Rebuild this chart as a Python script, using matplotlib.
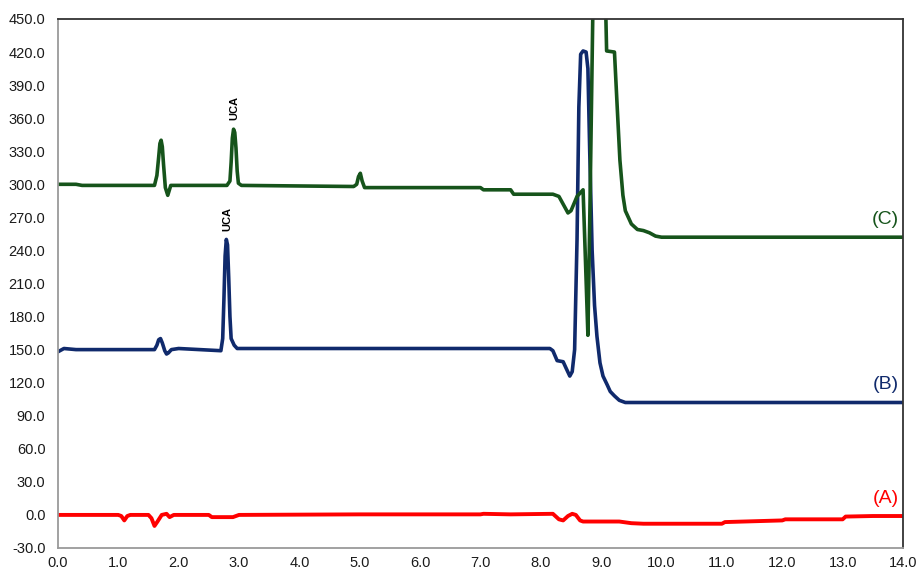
import matplotlib.pyplot as plt

# retention time (min) / signal
a_time = [0.0, 1.0, 1.05, 1.1, 1.15, 1.2, 1.5, 1.55, 1.6, 1.65, 1.72, 1.8, 1.85, 1.92,
          2.5, 2.55, 2.9, 3.0, 5.0, 7.0, 7.05, 7.5, 8.2, 8.3, 8.37, 8.45, 8.52, 8.58,
          8.65, 8.7, 9.0, 9.3, 9.5, 9.7, 11.0, 11.05, 12.0, 12.05, 13.0, 13.05, 13.5, 14.0]
a_signal = [0, 0, -1, -5, -1, 0, 0, -3, -10, -6, 0, 1, -2, 0,
            0, -2, -2, 0, 0.5, 0.5, 1, 0.5, 1, -4, -5, -1, 1, 0,
            -5, -6, -6, -6, -7.5, -8, -8, -6.5, -5, -4, -4, -1.5, -1, -1]

b_time = [0.0, 0.1, 0.3, 1.6, 1.64, 1.67, 1.7, 1.73, 1.77, 1.8, 1.83, 1.88, 2.0, 2.7,
          2.73, 2.75, 2.77, 2.79, 2.81, 2.83, 2.85, 2.87, 2.92, 2.97, 8.15, 8.2, 8.27,
          8.37, 8.42, 8.48, 8.52, 8.56, 8.6, 8.63, 8.66, 8.7, 8.75, 8.78, 8.81, 8.85,
          8.89, 8.93, 8.98, 9.03, 9.1, 9.15, 9.22, 9.3, 9.4, 14.0]
b_signal = [148, 151, 150, 150, 154, 159, 160, 156, 149, 146, 147, 150, 151, 149,
            160, 195, 235, 250, 245, 215, 180, 160, 154, 151, 151, 149, 140,
            139, 133, 126, 130, 150, 250, 370, 418, 421, 420, 405, 330, 240,
            190, 162, 138, 126, 118, 112, 108, 104, 102, 102]

c_time = [0.0, 0.3, 0.4, 1.6, 1.64, 1.67, 1.69, 1.71, 1.73, 1.75, 1.78, 1.82, 1.87,
          2.8, 2.85, 2.87, 2.89, 2.91, 2.93, 2.95, 2.97, 2.99, 3.04, 4.9, 4.95, 4.98,
          5.01, 5.04, 5.08, 5.12, 7.0, 7.05, 7.5, 7.55, 8.2, 8.3, 8.4, 8.45, 8.5, 8.6,
          8.7, 8.74, 8.78, 8.82, 8.86, 8.95, 9.0, 9.07, 9.09, 9.22, 9.26, 9.31, 9.36,
          9.4, 9.45, 9.5, 9.6, 9.7, 9.8, 9.9, 10.0, 14.0]
c_signal = [300, 300, 299, 299, 308, 325, 337, 340, 334, 318, 297, 290, 299,
            299, 303, 320, 342, 350, 347, 333, 312, 301, 299, 298, 300, 307,
            310, 303, 297, 297, 297, 295, 295, 291, 291, 289, 279, 274, 276, 289,
            295, 230, 163, 300, 450, 600, 600, 470, 421, 420, 376, 322, 290,
            276, 270, 264, 259, 258, 256, 253, 252, 252]

green = '#16541b'
navy = '#102a6c'
red = '#ff0000'

fig = plt.figure(figsize=(9.19, 5.72), dpi=100)
ax = fig.add_axes([0.063, 0.042, 0.9196, 0.9248])

ax.plot(a_time, a_signal, color=red, lw=2.8, solid_joinstyle='round')
ax.plot(b_time, b_signal, color=navy, lw=2.6, solid_joinstyle='round')
ax.plot(c_time, c_signal, color=green, lw=2.6, solid_joinstyle='round')

ax.set_xlim(0, 14)
ax.set_ylim(-30, 450)
ax.set_xticks([i * 1.0 for i in range(15)])
ax.set_yticks([-30 + 30 * i for i in range(17)])
ax.xaxis.set_major_formatter(plt.FormatStrFormatter('%.1f'))
ax.yaxis.set_major_formatter(plt.FormatStrFormatter('%.1f'))
ax.tick_params(length=0, labelsize=10.5, labelcolor='#1a1a1a')
ax.tick_params(axis='y', pad=9)
ax.tick_params(axis='x', pad=6)
for lab in ax.get_xticklabels() + ax.get_yticklabels():
    lab.set_family('Liberation Sans')

ax.spines['left'].set_color('#9a9a9a')
ax.spines['bottom'].set_color('#9a9a9a')
ax.spines['top'].set_color('#333333')
ax.spines['right'].set_color('#333333')
for s in ax.spines.values():
    s.set_linewidth(1.3)

ax.text(2.92, 358, 'UCA', rotation=90, ha='center', va='bottom', fontsize=8,
        fontweight='bold', family='Liberation Sans')
ax.text(2.8, 258, 'UCA', rotation=90, ha='center', va='bottom', fontsize=8,
        fontweight='bold', family='Liberation Sans')

ax.text(13.93, 268, '(C)', color=green, ha='right', va='center', fontsize=14,
        family='Liberation Sans')
ax.text(13.93, 118, '(B)', color=navy, ha='right', va='center', fontsize=14,
        family='Liberation Sans')
ax.text(13.93, 15, '(A)', color=red, ha='right', va='center', fontsize=14,
        family='Liberation Sans')

fig.savefig('out.png', dpi=100)
